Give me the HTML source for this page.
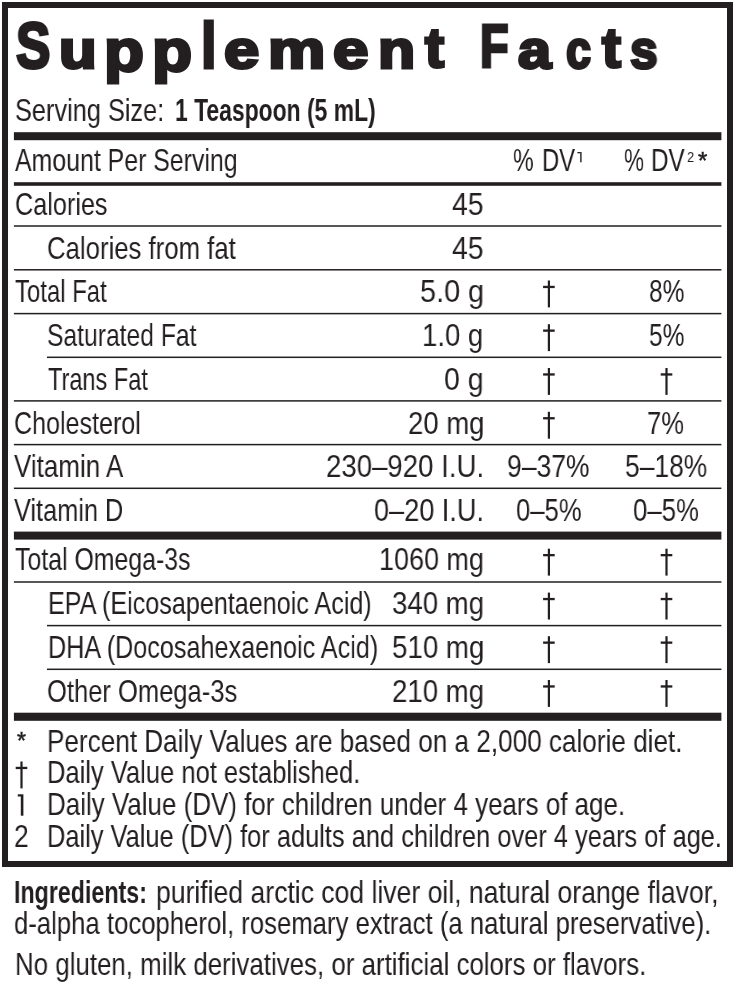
<!DOCTYPE html>
<html><head><meta charset="utf-8"><title>Supplement Facts</title>
<style>
html,body{margin:0;padding:0;background:#fff;}
body{width:735px;height:985px;position:relative;overflow:hidden;font-family:"Liberation Sans",sans-serif;color:#231f20;}
.t{position:absolute;white-space:pre;line-height:1;transform-origin:0 0;display:block;will-change:transform;}
.b{font-weight:700;}
.n{-webkit-text-stroke:0;}
.r{position:absolute;background:#231f20;}
.box{position:absolute;left:2px;top:2px;width:719px;height:853px;border:6px solid #231f20;}
</style></head><body>
<div class="box"></div>
<svg width="735" height="985" viewBox="0 0 735 985" style="position:absolute;left:0;top:0" fill="#231f20">
<rect x="13.9" y="132.2" width="707.5" height="8"/>
<rect x="13.9" y="182.2" width="707.5" height="3.6"/>
<rect x="13.9" y="225.25" width="707.5" height="1.5"/>
<rect x="13.9" y="269.05" width="707.5" height="1.5"/>
<rect x="13.9" y="312.85" width="707.5" height="1.5"/>
<rect x="47" y="356.55" width="674.4" height="1.5"/>
<rect x="13.9" y="400.15" width="707.5" height="1.5"/>
<rect x="13.9" y="443.85" width="707.5" height="1.5"/>
<rect x="13.9" y="487.55" width="707.5" height="1.5"/>
<rect x="13.9" y="581.25" width="707.5" height="1.5"/>
<rect x="47" y="624.85" width="674.4" height="1.5"/>
<rect x="47" y="668.55" width="674.4" height="1.5"/>
<rect x="13.9" y="531.6" width="707.5" height="8"/>
<rect x="13.9" y="712.7" width="707.5" height="8.1"/>
<rect x="547.8" y="280.5" width="2.2" height="26.9"/>
<rect x="543.1" y="285.8" width="11.6" height="2.3"/>
<rect x="547.8" y="324.2" width="2.2" height="26.9"/>
<rect x="543.1" y="329.5" width="11.6" height="2.3"/>
<rect x="547.8" y="368" width="2.2" height="26.9"/>
<rect x="543.1" y="373.3" width="11.6" height="2.3"/>
<rect x="547.8" y="411.8" width="2.2" height="26.9"/>
<rect x="543.1" y="417.1" width="11.6" height="2.3"/>
<rect x="547.8" y="548.7" width="2.2" height="26.9"/>
<rect x="543.1" y="554" width="11.6" height="2.3"/>
<rect x="547.8" y="592.6" width="2.2" height="26.9"/>
<rect x="543.1" y="597.9" width="11.6" height="2.3"/>
<rect x="547.8" y="636.2" width="2.2" height="26.9"/>
<rect x="543.1" y="641.5" width="11.6" height="2.3"/>
<rect x="547.8" y="680" width="2.2" height="26.9"/>
<rect x="543.1" y="685.3" width="11.6" height="2.3"/>
<rect x="665.4" y="368" width="2.2" height="26.9"/>
<rect x="660.7" y="373.3" width="11.6" height="2.3"/>
<rect x="665.4" y="548.7" width="2.2" height="26.9"/>
<rect x="660.7" y="554" width="11.6" height="2.3"/>
<rect x="665.4" y="592.6" width="2.2" height="26.9"/>
<rect x="660.7" y="597.9" width="11.6" height="2.3"/>
<rect x="665.4" y="636.2" width="2.2" height="26.9"/>
<rect x="660.7" y="641.5" width="11.6" height="2.3"/>
<rect x="665.4" y="680" width="2.2" height="26.9"/>
<rect x="660.7" y="685.3" width="11.6" height="2.3"/>
<rect x="20.4" y="761.5" width="2.2" height="26.9"/>
<rect x="15.7" y="766.8" width="11.6" height="2.3"/>
<rect x="20.8" y="794.3" width="2.6" height="21.4"/>
<rect x="17.8" y="794.3" width="3.2" height="2.2"/>
<rect x="580.2" y="152" width="1.4" height="10.3"/>
<rect x="577.4" y="152" width="2.9" height="1.3"/>
</svg>
<span class="t b" style="left:16.08px;top:15.00px;font-size:63.94px;transform:scaleX(0.8070);-webkit-text-stroke:3px #231f20;">S</span>
<span class="t b" style="left:58.83px;top:23.00px;font-size:53.33px;transform:scaleX(1.1566);-webkit-text-stroke:3px #231f20;">u</span>
<span class="t b" style="left:104.32px;top:21.00px;font-size:59.47px;transform:scaleX(1.1009);-webkit-text-stroke:3px #231f20;">p</span>
<span class="t b" style="left:151.82px;top:21.00px;font-size:59.47px;transform:scaleX(1.1039);-webkit-text-stroke:3px #231f20;">p</span>
<span class="t b" style="left:200.65px;top:14.00px;font-size:64.38px;transform:scaleX(0.8685);-webkit-text-stroke:3px #231f20;">l</span>
<span class="t b" style="left:224.24px;top:23.00px;font-size:54.55px;transform:scaleX(1.1625);-webkit-text-stroke:3px #231f20;">e</span>
<span class="t b" style="left:268.02px;top:22.00px;font-size:54.07px;transform:scaleX(1.1918);-webkit-text-stroke:3px #231f20;">m</span>
<span class="t b" style="left:333.44px;top:23.00px;font-size:54.55px;transform:scaleX(1.1691);-webkit-text-stroke:3px #231f20;">e</span>
<span class="t b" style="left:377.84px;top:22.00px;font-size:54.07px;transform:scaleX(1.1254);-webkit-text-stroke:3px #231f20;">n</span>
<span class="t b" style="left:424.75px;top:20.00px;font-size:56.27px;transform:scaleX(1.0184);-webkit-text-stroke:3px #231f20;">t</span>
<span class="t b" style="left:479.63px;top:15.00px;font-size:61.57px;transform:scaleX(0.7624);-webkit-text-stroke:3px #231f20;">F</span>
<span class="t b" style="left:518.45px;top:23.00px;font-size:54.55px;transform:scaleX(1.0907);-webkit-text-stroke:3px #231f20;">a</span>
<span class="t b" style="left:565.59px;top:23.00px;font-size:54.55px;transform:scaleX(0.8223);-webkit-text-stroke:3px #231f20;">c</span>
<span class="t b" style="left:601.75px;top:20.00px;font-size:56.27px;transform:scaleX(1.0089);-webkit-text-stroke:3px #231f20;">t</span>
<span class="t b" style="left:630.38px;top:23.00px;font-size:54.55px;transform:scaleX(0.9114);-webkit-text-stroke:3px #231f20;">s</span>
<span class="t n" style="left:15.17px;top:95.00px;font-size:30.50px;transform:scaleX(0.8302);">Serving Size:</span>
<span class="t b" style="left:174.65px;top:95.00px;font-size:30.50px;transform:scaleX(0.7512);">1 Teaspoon (5 mL)</span>
<span class="t n" style="left:14.90px;top:145.00px;font-size:30.50px;transform:scaleX(0.8156);">Amount Per Serving</span>
<span class="t n" style="left:513.34px;top:145.00px;font-size:30.50px;transform:scaleX(0.7614);">%</span>
<span class="t n" style="left:541.74px;top:145.00px;font-size:30.50px;transform:scaleX(0.7799);">DV</span>
<span class="t n" style="left:623.96px;top:145.00px;font-size:30.50px;transform:scaleX(0.7383);">%</span>
<span class="t n" style="left:651.11px;top:145.00px;font-size:30.50px;transform:scaleX(0.7945);">DV</span>
<span class="t" style="left:687.00px;top:149.00px;font-size:15.50px;transform:scaleX(0.8245);">2</span>
<span class="t" style="left:697.92px;top:150.00px;font-size:23.33px;transform:scaleX(1.0292);-webkit-text-stroke:0.5px #231f20;">*</span>
<span class="t n" style="left:15.17px;top:189.00px;font-size:30.50px;transform:scaleX(0.8271);">Calories</span>
<span class="t n" style="left:47.06px;top:233.00px;font-size:30.50px;transform:scaleX(0.8439);">Calories from fat</span>
<span class="t n" style="left:15.20px;top:276.00px;font-size:30.50px;transform:scaleX(0.7839);">Total Fat</span>
<span class="t n" style="left:47.09px;top:320.00px;font-size:30.50px;transform:scaleX(0.8088);">Saturated Fat</span>
<span class="t n" style="left:47.90px;top:364.00px;font-size:30.50px;transform:scaleX(0.7714);">Trans Fat</span>
<span class="t n" style="left:13.78px;top:408.00px;font-size:30.50px;transform:scaleX(0.8218);">Cholesterol</span>
<span class="t n" style="left:14.20px;top:451.00px;font-size:30.50px;transform:scaleX(0.8515);">Vitamin A</span>
<span class="t n" style="left:14.20px;top:495.00px;font-size:30.50px;transform:scaleX(0.8306);">Vitamin D</span>
<span class="t n" style="left:15.20px;top:544.00px;font-size:30.50px;transform:scaleX(0.8152);">Total Omega-3s</span>
<span class="t n" style="left:47.55px;top:588.00px;font-size:30.50px;transform:scaleX(0.8241);">EPA (Eicosapentaenoic Acid)</span>
<span class="t n" style="left:47.55px;top:632.00px;font-size:30.50px;transform:scaleX(0.8253);">DHA (Docosahexaenoic Acid)</span>
<span class="t n" style="left:47.06px;top:676.00px;font-size:30.50px;transform:scaleX(0.8375);">Other Omega-3s</span>
<span class="t n" style="left:451.60px;top:189.00px;font-size:30.50px;transform:scaleX(0.9280);">45</span>
<span class="t n" style="left:451.60px;top:233.00px;font-size:30.50px;transform:scaleX(0.9280);">45</span>
<span class="t n" style="left:419.55px;top:276.00px;font-size:30.50px;transform:scaleX(0.9463);">5.0 g</span>
<span class="t n" style="left:422.39px;top:320.00px;font-size:30.50px;transform:scaleX(0.9032);">1.0 g</span>
<span class="t n" style="left:444.17px;top:364.00px;font-size:30.50px;transform:scaleX(0.9330);">0 g</span>
<span class="t n" style="left:408.20px;top:408.00px;font-size:30.50px;transform:scaleX(0.9020);">20 mg</span>
<span class="t n" style="left:325.90px;top:451.00px;font-size:30.50px;transform:scaleX(0.9048);">230–920 I.U.</span>
<span class="t n" style="left:373.91px;top:495.00px;font-size:30.50px;transform:scaleX(0.8886);">0–20 I.U.</span>
<span class="t n" style="left:379.43px;top:544.00px;font-size:30.50px;transform:scaleX(0.8837);">1060 mg</span>
<span class="t n" style="left:392.29px;top:588.00px;font-size:30.50px;transform:scaleX(0.9051);">340 mg</span>
<span class="t n" style="left:391.99px;top:632.00px;font-size:30.50px;transform:scaleX(0.9082);">510 mg</span>
<span class="t n" style="left:392.29px;top:676.00px;font-size:30.50px;transform:scaleX(0.9051);">210 mg</span>
<span class="t n" style="left:507.13px;top:451.00px;font-size:30.50px;transform:scaleX(0.8693);">9–37%</span>
<span class="t n" style="left:515.56px;top:495.00px;font-size:30.50px;transform:scaleX(0.8401);">0–5%</span>
<span class="t n" style="left:648.50px;top:276.00px;font-size:30.50px;transform:scaleX(0.8028);">8%</span>
<span class="t n" style="left:648.50px;top:320.00px;font-size:30.50px;transform:scaleX(0.8028);">5%</span>
<span class="t n" style="left:647.36px;top:408.00px;font-size:30.50px;transform:scaleX(0.8400);">7%</span>
<span class="t n" style="left:624.83px;top:451.00px;font-size:30.50px;transform:scaleX(0.8661);">5–18%</span>
<span class="t n" style="left:632.86px;top:495.00px;font-size:30.50px;transform:scaleX(0.8440);">0–5%</span>
<span class="t" style="left:17.22px;top:730.00px;font-size:23.33px;transform:scaleX(0.9854);-webkit-text-stroke:0.5px #231f20;">*</span>
<span class="t n" style="left:14.03px;top:821.00px;font-size:30.50px;transform:scaleX(0.8663);">2</span>
<span class="t n" style="left:46.59px;top:726.00px;font-size:30.50px;transform:scaleX(0.8564);">Percent Daily Values are based on a 2,000 calorie diet.</span>
<span class="t n" style="left:46.63px;top:757.00px;font-size:30.50px;transform:scaleX(0.8372);">Daily Value not established.</span>
<span class="t n" style="left:46.60px;top:789.00px;font-size:30.50px;transform:scaleX(0.8512);">Daily Value (DV) for children under 4 years of age.</span>
<span class="t n" style="left:46.63px;top:821.00px;font-size:30.50px;transform:scaleX(0.8335);">Daily Value (DV) for adults and children over 4 years of age.</span>
<span class="t b" style="left:14.38px;top:877.00px;font-size:30.50px;transform:scaleX(0.7612);">Ingredients:</span>
<span class="t n" style="left:156.03px;top:877.00px;font-size:30.50px;transform:scaleX(0.8708);">purified arctic cod liver oil, natural orange flavor,</span>
<span class="t n" style="left:14.06px;top:908.00px;font-size:30.50px;transform:scaleX(0.8429);">d-alpha tocopherol, rosemary extract (a natural preservative).</span>
<span class="t n" style="left:14.70px;top:949.00px;font-size:30.50px;transform:scaleX(0.8483);">No gluten, milk derivatives, or artificial colors or flavors.</span>
</body></html>
